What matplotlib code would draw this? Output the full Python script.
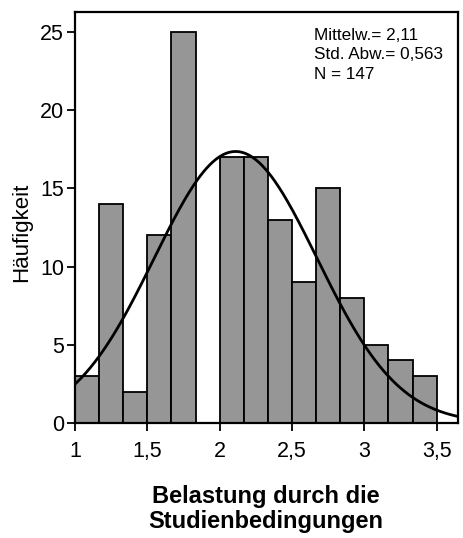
import numpy as np
import matplotlib
matplotlib.use("Agg")
import matplotlib.pyplot as plt
from matplotlib.transforms import offset_copy

plt.rcParams['font.family'] = ['Liberation Sans', 'DejaVu Sans']

# Data
bin_edges = [1.0, 7/6, 4/3, 1.5, 5/3, 11/6, 2.0, 13/6, 7/3, 2.5, 8/3, 17/6, 3.0, 19/6, 10/3, 3.5]
counts = [3, 14, 2, 12, 25, 0, 17, 17, 13, 9, 15, 8, 5, 4, 3]
mean_val = 2.11
std_val = 0.563
n_val = 147
xticks = [1, 1.5, 2, 2.5, 3, 3.5]
xtick_labels = ['1', '1,5', '2', '2,5', '3', '3,5']
yticks = [0, 5, 10, 15, 20, 25]
ytick_labels = ['0', '5', '10', '15', '20', '25']

fig = plt.figure(figsize=(4.63, 5.38), dpi=100)
ax = fig.add_axes([75/463, 115/538, 383/463, 411/538])

edges = np.array(bin_edges)
widths = np.diff(edges)
ax.bar(edges[:-1], counts, width=widths, align='edge', color='#969696',
       edgecolor='black', linewidth=1.3, zorder=2)

xs = np.linspace(0.9, 3.8, 400)
bw = widths.mean()
ys = n_val * bw / (std_val * np.sqrt(2 * np.pi)) * np.exp(-0.5 * ((xs - mean_val) / std_val) ** 2)
ax.plot(xs, ys, color='black', linewidth=2.0, zorder=3)

ax.set_xlim(1.0, 3.647)
ax.set_ylim(0, 26.28)
ax.set_xticks(xticks)
ax.set_xticklabels(xtick_labels)
ax.set_yticks(yticks)
ax.set_yticklabels(ytick_labels)
for lbl in ax.get_xticklabels():
    lbl.set_transform(offset_copy(lbl.get_transform(), fig=fig, x=4, y=0, units='dots'))
ax.tick_params(axis='both', labelsize=15.5, length=6, width=1.3, colors='black', direction='out')
ax.tick_params(axis='x', pad=7)
ax.tick_params(axis='y', pad=2)
for s in ax.spines.values():
    s.set_linewidth(1.6)
    s.set_color('black')

ax.text(0.623, 0.962, 'Mittelw.= 2,11\nStd. Abw.= 0,563\nN = 147',
        transform=ax.transAxes, ha='left', va='top', fontsize=12.3, linespacing=1.4)

fig.text(22/463, 1 - 232/538, 'Häufigkeit', rotation=90, ha='center', va='center', fontsize=16)
fig.text(266/463, 1 - 509/538, 'Belastung durch die\nStudienbedingungen', ha='center', va='center',
         fontsize=17, fontweight='bold', linespacing=1.1)

fig.savefig('out.png', dpi=100)
